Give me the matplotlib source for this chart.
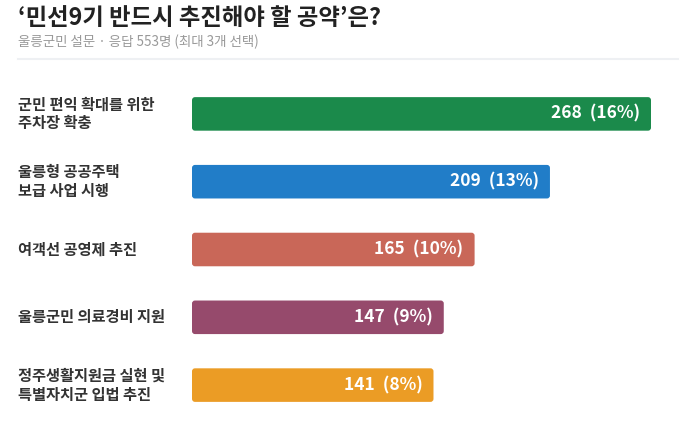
import matplotlib
matplotlib.use("Agg")
import matplotlib.pyplot as plt
from matplotlib.patches import FancyBboxPatch

plt.rcParams['font.family'] = ['Noto Sans CJK KR', 'DejaVu Sans']

title = "‘민선9기 반드시 추진해야 할 공약’은?"
subtitle = "울릉군민 설문 · 응답 553명 (최대 3개 선택)"
categories = ["군민 편익 확대를 위한\n주차장 확충",
              "울릉형 공공주택\n보급 사업 시행",
              "여객선 공영제 추진",
              "울릉군민 의료경비 지원",
              "정주생활지원금 실현 및\n특별자치군 입법 추진"]
counts = [268, 209, 165, 147, 141]
percents = [16, 13, 10, 9, 8]
colors = ["#1B8A4B", "#217DC8", "#C96758", "#964A6C", "#EB9C25"]

W, H = 700, 433
fig = plt.figure(figsize=(W / 100, H / 100), dpi=100)
fig.patch.set_facecolor("white")

ax_left, ax_right = 192, 677
ax_top, ax_bot = 80, 419
ax = fig.add_axes([ax_left / W, (H - ax_bot) / H, (ax_right - ax_left) / W, (ax_bot - ax_top) / H])
xmax = 268 * (ax_right - ax_left) / (651 - ax_left)
ax.set_xlim(0, xmax)
ax.set_ylim(len(categories) - 0.5, -0.5)
ax.axis("off")

bars = ax.barh(range(len(categories)), counts, height=0.495, color=colors)
px_x = xmax / (ax_right - ax_left)
px_y = len(categories) / (ax_bot - ax_top)
for b, c in zip(bars, colors):
    b.set_visible(False)
    r = 3 * px_x
    p = FancyBboxPatch((b.get_x(), b.get_y()), b.get_width(), b.get_height(),
                       boxstyle=f"round,pad=0,rounding_size={r}",
                       mutation_aspect=px_y / px_x,
                       facecolor=c, edgecolor="none")
    ax.add_patch(p)

for i, (v, pc) in enumerate(zip(counts, percents)):
    ax.text(v - 11 * px_x, i, f"{v}  ({pc}%)", ha="right", va="center",
            color="white", fontsize=12.5, fontweight="bold")

for i, lab in enumerate(categories):
    y_px = ax_top + (i + 0.5) * (ax_bot - ax_top) / len(categories)
    fig.text(18 / W, 1 - y_px / H, lab, ha="left", va="center",
             fontsize=11, fontweight="bold", color="#333333", linespacing=1.22)

fig.text(18 / W, 1 - 18 / H, title, ha="left", va="center",
         fontsize=16.8, fontweight="bold", color="#222222")
fig.text(18 / W, 1 - 42 / H, subtitle, ha="left", va="center",
         fontsize=9.7, color="#999999")
fig.add_artist(plt.Line2D([18 / W, 678 / W], [1 - 58.7 / H, 1 - 58.7 / H],
                          color="#EEF0F3", lw=1.5))

fig.savefig("out.png", dpi=100, facecolor="white")
